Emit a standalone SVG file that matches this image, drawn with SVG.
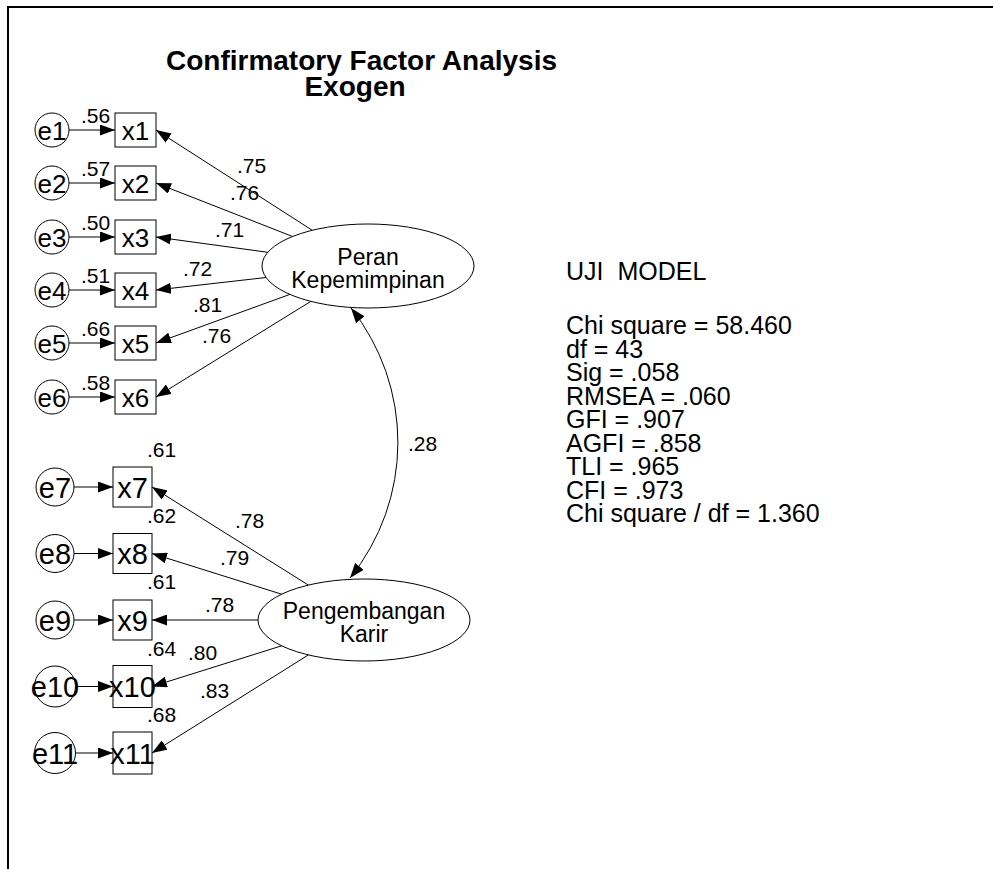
<svg xmlns="http://www.w3.org/2000/svg" width="993" height="869" viewBox="0 0 993 869">
<style>
text{font-family:"Liberation Sans",Arial,sans-serif;fill:#000}
.box,.err,.lat{fill:#fff;stroke:#000;stroke-width:1}
.lbl{font-size:26px;text-anchor:middle}
.lbl2{font-size:29px;text-anchor:middle}
.num{font-size:21px}
.lt{font-size:23px;text-anchor:middle}
.st{font-size:25px;white-space:pre}
.c{fill:none;stroke:#000;stroke-width:1;marker-end:url(#ah)}
</style>
<defs>
<marker id="ah" viewBox="0 0 15 11" refX="15" refY="5.5" markerWidth="15" markerHeight="11" markerUnits="userSpaceOnUse" orient="auto-start-reverse">
<path d="M0,0 L15,5.5 L0,11 z" fill="#000"/>
</marker>
</defs>
<rect x="0" y="0" width="993" height="869" fill="#fff"/>
<path d="M8,869 V7 H993" fill="none" stroke="#000" stroke-width="2"/>
<g id="title">
<text x="361.5" y="70" style="font-size:28px;font-weight:bold;text-anchor:middle">Confirmatory Factor Analysis</text>
<text x="355" y="96" style="font-size:28px;font-weight:bold;text-anchor:middle">Exogen</text>
</g>
<g id="connectors">
<path class="c" d="M69,130 H115"/>
<path class="c" d="M69,183 H115"/>
<path class="c" d="M69,237 H115"/>
<path class="c" d="M69,290 H115"/>
<path class="c" d="M69,343 H115"/>
<path class="c" d="M69,397 H115"/>
<path class="c" d="M74,487 H113"/>
<path class="c" d="M74,553.5 H113"/>
<path class="c" d="M74,620 H113"/>
<path class="c" d="M75,686.5 H113"/>
<path class="c" d="M75,753 H113"/>
<path class="c" d="M312.3,230.3 L156,130"/>
<path class="c" d="M292.6,236.5 L156,183"/>
<path class="c" d="M267.8,252.3 L156,237"/>
<path class="c" d="M266.1,277.5 L156,290"/>
<path class="c" d="M289.9,294.4 L156,343"/>
<path class="c" d="M310.8,301.4 L156,397"/>
<path class="c" d="M308.4,585.1 L152,487"/>
<path class="c" d="M281.7,594.2 L152,553.5"/>
<path class="c" d="M258,620 L152,620"/>
<path class="c" d="M281.7,645.8 L152,686.5"/>
<path class="c" d="M308.4,654.9 L152,753"/>
<path class="c" d="M351,308 A216,216 0 0 1 350,578" style="marker-start:url(#ah)"/>
</g>
<g id="labels" class="num">
<text x="81" y="123">.56</text>
<text x="81" y="176">.57</text>
<text x="81" y="230">.50</text>
<text x="81" y="283">.51</text>
<text x="81" y="336">.66</text>
<text x="81" y="390">.58</text>
<text x="147" y="457">.61</text>
<text x="147" y="523">.62</text>
<text x="147" y="589">.61</text>
<text x="147" y="656">.64</text>
<text x="147" y="722">.68</text>
<text x="237" y="173">.75</text>
<text x="230" y="200">.76</text>
<text x="215" y="237">.71</text>
<text x="183" y="276">.72</text>
<text x="193" y="312">.81</text>
<text x="202" y="343">.76</text>
<text x="235" y="528">.78</text>
<text x="220" y="565">.79</text>
<text x="205" y="612">.78</text>
<text x="188" y="660">.80</text>
<text x="200" y="698">.83</text>
<text x="408" y="451">.28</text>
</g>
<g id="e1"><circle class="err" cx="52" cy="130" r="17"/><text class="lbl" x="52" y="140">e1</text></g>
<g id="e2"><circle class="err" cx="52" cy="183" r="17"/><text class="lbl" x="52" y="193">e2</text></g>
<g id="e3"><circle class="err" cx="52" cy="237" r="17"/><text class="lbl" x="52" y="247">e3</text></g>
<g id="e4"><circle class="err" cx="52" cy="290" r="17"/><text class="lbl" x="52" y="300">e4</text></g>
<g id="e5"><circle class="err" cx="52" cy="343" r="17"/><text class="lbl" x="52" y="353">e5</text></g>
<g id="e6"><circle class="err" cx="52" cy="397" r="17"/><text class="lbl" x="52" y="407">e6</text></g>
<g id="e7"><circle class="err" cx="55" cy="487" r="19"/><text class="lbl2" x="55" y="497.5">e7</text></g>
<g id="e8"><circle class="err" cx="55" cy="553.5" r="19"/><text class="lbl2" x="55" y="564">e8</text></g>
<g id="e9"><circle class="err" cx="55" cy="620" r="19"/><text class="lbl2" x="55" y="630.5">e9</text></g>
<g id="e10"><circle class="err" cx="55" cy="686.5" r="20.5"/><text class="lbl2" x="55" y="697">e10</text></g>
<g id="e11"><circle class="err" cx="55" cy="753" r="20.5"/><text class="lbl2" x="55" y="763.5">e11</text></g>
<g id="x1"><rect class="box" x="115" y="113" width="41" height="34"/><text class="lbl" x="135.5" y="140">x1</text></g>
<g id="x2"><rect class="box" x="115" y="166" width="41" height="34"/><text class="lbl" x="135.5" y="193">x2</text></g>
<g id="x3"><rect class="box" x="115" y="220" width="41" height="34"/><text class="lbl" x="135.5" y="247">x3</text></g>
<g id="x4"><rect class="box" x="115" y="273" width="41" height="34"/><text class="lbl" x="135.5" y="300">x4</text></g>
<g id="x5"><rect class="box" x="115" y="326" width="41" height="34"/><text class="lbl" x="135.5" y="353">x5</text></g>
<g id="x6"><rect class="box" x="115" y="380" width="41" height="34"/><text class="lbl" x="135.5" y="407">x6</text></g>
<g id="x7"><rect class="box" x="113" y="467" width="39" height="40"/><text class="lbl2" x="132.5" y="497.5">x7</text></g>
<g id="x8"><rect class="box" x="113" y="533.5" width="39" height="40"/><text class="lbl2" x="132.5" y="564">x8</text></g>
<g id="x9"><rect class="box" x="113" y="600" width="39" height="40"/><text class="lbl2" x="132.5" y="630.5">x9</text></g>
<g id="x10"><rect class="box" x="113" y="665.5" width="39" height="42"/><text class="lbl2" x="132.5" y="697">x10</text></g>
<g id="x11"><rect class="box" x="113" y="732" width="39" height="42"/><text class="lbl2" x="132.5" y="763.5">x11</text></g>
<g id="peran"><ellipse class="lat" cx="368" cy="266" rx="106" ry="42"/><text class="lt" x="368" y="265">Peran</text><text class="lt" x="368" y="288">Kepemimpinan</text></g>
<g id="karir"><ellipse class="lat" cx="364" cy="620" rx="106" ry="41"/><text class="lt" x="364" y="619">Pengembangan</text><text class="lt" x="364" y="642">Karir</text></g>
<g id="stats">
<text class="st" x="566" y="280">UJI  MODEL</text>
<text class="st" x="566" y="334">Chi square = 58.460</text>
<text class="st" x="566" y="357.5">df = 43</text>
<text class="st" x="566" y="381">Sig = .058</text>
<text class="st" x="566" y="404.5">RMSEA = .060</text>
<text class="st" x="566" y="428">GFI = .907</text>
<text class="st" x="566" y="451.5">AGFI = .858</text>
<text class="st" x="566" y="475">TLI = .965</text>
<text class="st" x="566" y="498.5">CFI = .973</text>
<text class="st" x="566" y="522">Chi square / df = 1.360</text>
</g>
</svg>
